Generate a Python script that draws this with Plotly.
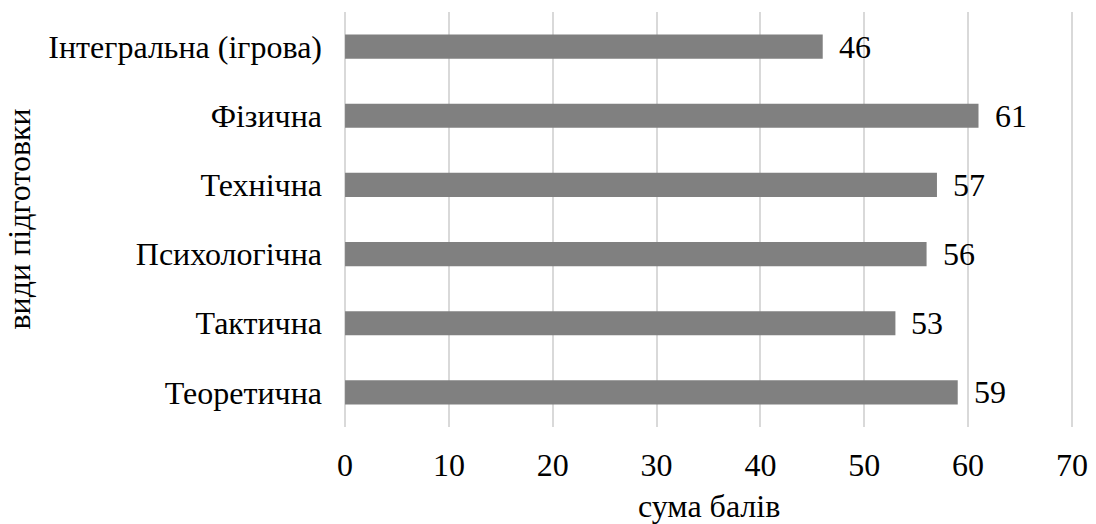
import plotly.graph_objects as go

categories = ["Теоретична", "Тактична", "Психологічна", "Технічна", "Фізична", "Інтегральна (ігрова)"]
values = [59, 53, 56, 57, 61, 46]
x_ticks = [0, 10, 20, 30, 40, 50, 60, 70]
x_title = "сума балів"
y_title = "види підготовки"

FONT = "Liberation Serif"
FS = 32

fig = go.Figure()
fig.add_trace(go.Bar(
    y=categories, x=values, orientation="h",
    marker=dict(color="#808080", line=dict(width=0)),
    hoverinfo="skip",
))
for c, v in zip(categories, values):
    fig.add_annotation(x=v, y=c, text=str(v), showarrow=False, xanchor="left",
                       xshift=14, font=dict(family=FONT, size=FS, color="#000"))

# axis titles
fig.add_annotation(xref="paper", yref="paper", x=0.5, y=0, text=x_title,
                   showarrow=False, xanchor="center", yanchor="middle", yshift=-79,
                   font=dict(family=FONT, size=FS, color="#000"))
fig.add_annotation(xref="paper", yref="paper", x=0, y=0.5, text=y_title,
                   showarrow=False, xanchor="center", yanchor="middle", xshift=-326,
                   textangle=-90, font=dict(family=FONT, size=FS, color="#000"))

fig.update_layout(
    width=1096, height=524,
    margin=dict(l=344, r=23, t=12, b=97, autoexpand=False),
    plot_bgcolor="white", paper_bgcolor="white",
    bargap=0.65,
    showlegend=False,
    font=dict(family=FONT, size=FS, color="#000"),
)
fig.update_xaxes(
    range=[-0.1, 70.1], tickvals=x_ticks, ticktext=[str(t) for t in x_ticks],
    showgrid=True, gridcolor="#d9d9d9", gridwidth=1.5, zeroline=False,
    showline=False, ticks="", ticklabelstandoff=16,
    tickfont=dict(family=FONT, size=FS), automargin=False,
)
fig.update_yaxes(
    categoryorder="array", categoryarray=categories,
    showgrid=False, zeroline=False, showline=False, ticks="",
    ticklabelstandoff=21,
    tickfont=dict(family=FONT, size=FS), automargin=False,
)
fig.write_html("out.html")
